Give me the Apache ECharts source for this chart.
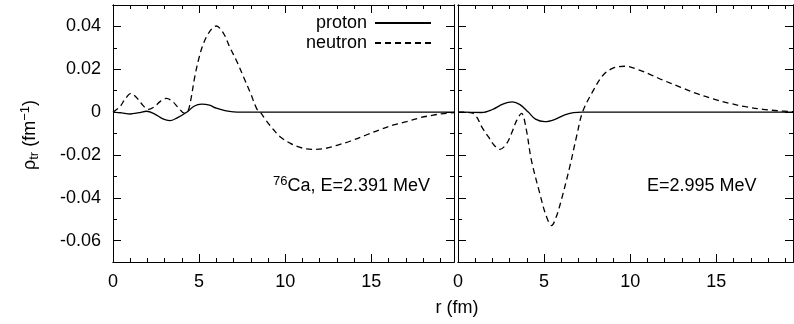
<!DOCTYPE html>
<html>
<head>
<meta charset="UTF-8">
<title>transition density</title>
<script src="https://cdn.jsdelivr.net/npm/echarts@6/dist/echarts.min.js"></script>
<style>
body{
margin:0;
background:#fff;
}
#chart{
width:794px;
height:324px;
}
</style>
</head>
<body>
<div id="chart"></div>
<script>

// ticks
const xMajor=[0,5,10,15]
const xMinor=[0,1,2,3,4,5,6,7,8,9,10,11,12,13,14,15,16,17,18,19]
const yMajor=[-0.06,-0.04,-0.02,0,0.02,0.04]
const yMinor=[-0.07,-0.06,-0.05,-0.04,-0.03,-0.02,-0.01,0,0.01,0.02,0.03,0.04,0.05]

// left panel: 76Ca, E=2.391 MeV   [r (fm), rho_tr]
const leftProton=[
 [0,0],[0.5,-0.0004],[1.0,-0.0009],[1.5,-0.0003],[1.95,0.0004],[2.4,-0.0008],
 [2.9,-0.0032],[3.3,-0.004],[3.7,-0.0028],[4.3,0],[4.7,0.0027],[5.15,0.0037],
 [5.6,0.0032],[6.0,0.0018],[6.5,0.0007],[7.0,0.0001],[7.5,0],[10,0],[15,0],[19.8,0]
]
const leftNeutron=[
 [0,0],[0.4,0.0025],[0.7,0.006],[1.05,0.0087],[1.4,0.0065],[1.75,0.003],
 [2.05,0.0013],[2.4,0.0025],[2.75,0.005],[3.1,0.0064],[3.45,0.005],[3.8,0.002],
 [4.15,-0.0005],[4.35,0.0005],[4.5,0.005],[4.75,0.0165],[5.0,0.0255],[5.25,0.032],
 [5.6,0.0375],[6.0,0.0402],[6.4,0.037],[6.8,0.030],[7.2,0.0235],[7.6,0.016],
 [8.0,0.0085],[8.35,0.0015],[8.55,0],[8.9,-0.004],[9.3,-0.008],[9.7,-0.0115],
 [10.3,-0.0146],[11.0,-0.0168],[11.6,-0.0174],[12.3,-0.017],[13.0,-0.0155],
 [13.8,-0.0135],[14.7,-0.0107],[15.5,-0.0082],[16.3,-0.006],[17.05,-0.0045],
 [17.8,-0.0027],[18.6,-0.0014],[19.2,-0.0007],[19.8,-0.0002]
]

// right panel: E=2.995 MeV
const rightProton=[
 [0,0],[0.7,-0.0001],[1.37,-0.0002],[2.0,0.0012],[2.6,0.0037],[3.15,0.0048],
 [3.6,0.0035],[4.08,0],[4.5,-0.0033],[5.04,-0.0045],[5.6,-0.0035],[6.2,-0.0013],
 [6.7,-0.0003],[7.2,0],[10,0],[15,0],[19.45,0]
]
const rightNeutron=[
 [0,0],[0.8,-0.0004],[1.1,-0.0025],[1.37,-0.0068],[1.76,-0.0115],[2.1,-0.0155],
 [2.43,-0.0174],[2.8,-0.015],[3.11,-0.0099],[3.4,-0.004],[3.69,-0.0006],
 [3.95,-0.0075],[4.26,-0.0224],[4.75,-0.038],[5.1,-0.048],[5.43,-0.053],
 [5.7,-0.049],[6.0,-0.041],[6.49,-0.0255],[6.88,-0.0115],[7.23,0],[7.8,0.0093],
 [8.42,0.0172],[9.0,0.0205],[9.68,0.0214],[10.5,0.0197],[11.2,0.0174],
 [11.9,0.0149],[12.9,0.0117],[13.84,0.0087],[14.8,0.0062],[15.77,0.0041],
 [16.7,0.0025],[17.7,0.0013],[18.6,0.0006],[19.45,0.0002]
]

const font="'Liberation Sans', Arial, sans-serif"
const xMax=[19.8,19.45]

function xAxis(grid,pos,ticks,len,labels){
 return {
  type:"value",gridIndex:grid,position:pos,min:0,max:xMax[grid],
  axisLine:{show:true,onZero:false,lineStyle:{color:"#000",width:1}},
  axisTick:{show:true,inside:true,length:len,customValues:ticks,lineStyle:{color:"#000",width:1}},
  axisLabel:{show:labels,customValues:xMajor,margin:11,color:"#000",fontSize:18,fontFamily:font},
  splitLine:{show:false}
 }
}

function yAxis(grid,pos,ticks,len,labels){
 return {
  type:"value",gridIndex:grid,position:pos,min:-0.07,max:0.05,
  axisLine:{show:true,onZero:false,lineStyle:{color:"#000",width:1}},
  axisTick:{show:true,inside:true,length:len,customValues:ticks,lineStyle:{color:"#000",width:1}},
  axisLabel:{show:labels,customValues:yMajor,margin:12,color:"#000",fontSize:18,fontFamily:font,
   formatter:v=>Math.abs(v)<1e-9?"0":v.toFixed(2)},
  splitLine:{show:false}
 }
}

const xAxes=[],yAxes=[]
for(let g=0;g<2;g++){
 xAxes.push(xAxis(g,"bottom",xMajor,8,true))
 xAxes.push(xAxis(g,"bottom",xMinor,4,false))
 xAxes.push(xAxis(g,"top",xMajor,8,false))
 xAxes.push(xAxis(g,"top",xMinor,4,false))
 yAxes.push(yAxis(g,"left",yMajor,8,g===0))
 yAxes.push(yAxis(g,"left",yMinor,4,false))
 yAxes.push(yAxis(g,"right",yMajor,8,false))
 yAxes.push(yAxis(g,"right",yMinor,4,false))
}

function line(name,data,g,dashed){
 return {
  name:name,type:"line",data:data,xAxisIndex:g*4,yAxisIndex:g*4,
  symbol:"none",smooth:0.35,
  lineStyle:{color:"#000",width:1.3,type:dashed?[6,4]:"solid"},
  itemStyle:{color:"#000"}
 }
}

const chart=echarts.init(document.getElementById("chart"),null,{renderer:"canvas"})

chart.setOption({
 animation:false,
 textStyle:{fontFamily:font},
 grid:[
  {left:113,top:5,width:341,height:257},
  {left:458,top:5,width:335,height:257}
 ],
 xAxis:xAxes,
 yAxis:yAxes,
 legend:{
  data:["proton","neutron"],orient:"vertical",align:"right",
  right:362,top:13,padding:0,itemWidth:56,itemHeight:10,itemGap:0,
  itemStyle:{opacity:0},
  textStyle:{fontSize:18,lineHeight:20,color:"#000",fontFamily:font,padding:[0,3,0,0]}
 },
 series:[
  line("proton",leftProton,0,false),
  line("neutron",leftNeutron,0,true),
  line("proton",rightProton,1,false),
  line("neutron",rightNeutron,1,true)
 ],
 graphic:[
  {
   type:"text",x:30,y:135,rotation:Math.PI/2,
   style:{
    text:"{i|ρ}{sub|tr} (fm{sup|−1})",x:0,y:0,
    align:"center",verticalAlign:"middle",textAlign:"center",textVerticalAlign:"middle",
    fill:"#000",font:"18px "+font,
    rich:{
     i:{fontSize:18,fontFamily:font},
     sub:{fontSize:13,fontFamily:font,padding:[9,0,0,0]},
     sup:{fontSize:13,fontFamily:font,padding:[0,0,9,0]}
    }
   }
  },
  {
   type:"text",x:430,y:186,
   style:{
    text:"{sup|76}Ca, E=2.391 MeV",x:0,y:0,
    align:"right",verticalAlign:"middle",textAlign:"right",textVerticalAlign:"middle",
    fill:"#000",font:"18px "+font,
    rich:{sup:{fontSize:13,fontFamily:font,padding:[0,0,9,0]}}
   }
  },
  {
   type:"text",x:647,y:186,
   style:{
    text:"E=2.995 MeV",x:0,y:0,
    align:"left",verticalAlign:"middle",textAlign:"left",textVerticalAlign:"middle",
    fill:"#000",font:"18px "+font
   }
  },
  {
   type:"text",x:457,y:308,
   style:{
    text:"r (fm)",x:0,y:0,
    align:"center",verticalAlign:"middle",textAlign:"center",textVerticalAlign:"middle",
    fill:"#000",font:"18px "+font
   }
  }
 ]
})

</script>
</body>
</html>
